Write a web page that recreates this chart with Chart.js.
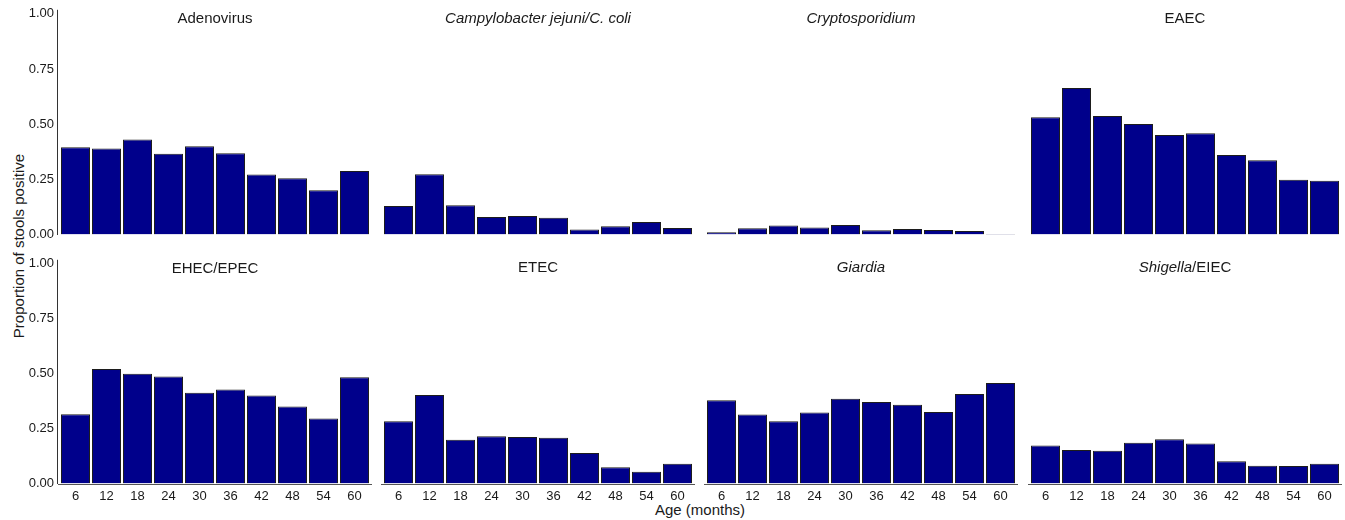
<!DOCTYPE html>
<html>
<head>
<meta charset="utf-8">
<script src="https://cdn.jsdelivr.net/npm/chart.js@4/dist/chart.umd.min.js"></script>
<style>
  html, body { margin: 0; padding: 0; background: #fff; }
  body { width: 1345px; height: 520px; position: relative; overflow: hidden;
         font-family: "Liberation Sans", Arial, Helvetica, sans-serif; color: #1a1a1a; }
  canvas.panel { position: absolute; }
  #ytitle { position: absolute; left: 18px; top: 246px; transform: translate(-50%, -50%) rotate(-90deg);
            font-size: 15px; white-space: nowrap; }
  #xtitle { position: absolute; left: 700px; top: 509px; transform: translate(-50%, -50%);
            font-size: 15px; white-space: nowrap; }
</style>
</head>
<body>
<div id="ytitle">Proportion of stools positive</div>
<div id="xtitle">Age (months)</div>
<script>
// Age groups (months)
const ages = ['6', '12', '18', '24', '30', '36', '42', '48', '54', '60'];

// Y-axis tick values
const yTicks = [0, 0.25, 0.5, 0.75, 1];

// Proportion of stools positive, by pathogen and age group
const adenovirus      = [0.395, 0.390, 0.431, 0.366, 0.400, 0.368, 0.272, 0.255, 0.201, 0.288];
const campylobacter   = [0.129, 0.272, 0.132, 0.079, 0.084, 0.076, 0.023, 0.037, 0.056, 0.029];
const cryptosporidium = [0.010, 0.028, 0.041, 0.032, 0.043, 0.019, 0.025, 0.020, 0.016, 0.002];
const eaec            = [0.529, 0.661, 0.535, 0.499, 0.449, 0.457, 0.359, 0.335, 0.247, 0.243];
const ehecEpec        = [0.315, 0.521, 0.500, 0.487, 0.413, 0.428, 0.401, 0.351, 0.296, 0.484];
const etec            = [0.281, 0.400, 0.198, 0.213, 0.210, 0.207, 0.138, 0.073, 0.053, 0.089];
const giardia         = [0.376, 0.311, 0.281, 0.321, 0.383, 0.368, 0.356, 0.323, 0.404, 0.454];
const shigellaEiec    = [0.172, 0.151, 0.148, 0.184, 0.200, 0.181, 0.100, 0.080, 0.079, 0.089];

// Panel titles (pieces flagged for italic species names)
const titleAdeno  = [['Adenovirus', false]];
const titleCampy  = [['Campylobacter jejuni/C. coli', true]];
const titleCrypto = [['Cryptosporidium', true]];
const titleEaec   = [['EAEC', false]];
const titleEhec   = [['EHEC/EPEC', false]];
const titleEtec   = [['ETEC', false]];
const titleGiard  = [['Giardia', true]];
const titleShig   = [['Shigella', true], ['/EIEC', false]];

const panels = [
  { title: titleAdeno,  data: adenovirus,      row: 0, col: 0 },
  { title: titleCampy,  data: campylobacter,   row: 0, col: 1 },
  { title: titleCrypto, data: cryptosporidium, row: 0, col: 2 },
  { title: titleEaec,   data: eaec,            row: 0, col: 3 },
  { title: titleEhec,   data: ehecEpec,        row: 1, col: 0 },
  { title: titleEtec,   data: etec,            row: 1, col: 1 },
  { title: titleGiard,  data: giardia,         row: 1, col: 2 },
  { title: titleShig,   data: shigellaEiec,    row: 1, col: 3 }
];

const FONT = '"Liberation Sans", Arial, Helvetica, sans-serif';
const INK = '#1a1a1a';
const BAR_FILL = '#00008b';
const BAR_EDGE = '#1c1c1c';

// Layout of the panel grid
const colLeft = [60, 383, 706, 1030];   // plot-area left edge of each column
const plotWidth = 310;
const rowTop = [0, 250];                 // canvas top of each row
const rowHeight = [250, 270];            // canvas height of each row
const xAxisSpace = [15.5, 36.5];         // room kept under the plot area

// Draws the panel title inside the top of the plot area, plus axis lines
const panelDecor = {
  id: 'panelDecor',
  afterDraw(chart, args, opts) {
    const { ctx, chartArea } = chart;
    const y = chart.scales.y;
    ctx.save();
    // title
    const size = 15;
    const pieces = opts.title || [];
    let total = 0;
    const widths = pieces.map(([t, it]) => {
      ctx.font = (it ? 'italic ' : '') + size + 'px ' + FONT;
      const w = ctx.measureText(t).width;
      total += w;
      return w;
    });
    let x = (chartArea.left + chartArea.right) / 2 - total / 2;
    ctx.fillStyle = INK;
    ctx.textBaseline = 'middle';
    ctx.textAlign = 'left';
    pieces.forEach(([t, it], i) => {
      ctx.font = (it ? 'italic ' : '') + size + 'px ' + FONT;
      ctx.fillText(t, x, chartArea.top + 5.5);
      x += widths[i];
    });
    ctx.strokeStyle = '#333';
    ctx.lineWidth = 1;
    // y-axis line, set slightly apart from the first bar
    if (opts.yLine) {
      const ax = Math.round(chartArea.left - 3) + 0.5;
      ctx.beginPath();
      ctx.moveTo(ax, y.getPixelForValue(1) - 4);
      ctx.lineTo(ax, y.getPixelForValue(0) + 0.5);
      ctx.stroke();
    }
    // x-axis baseline on the bottom row
    if (opts.xLine) {
      const by = Math.round(y.getPixelForValue(0)) + 0.5;
      ctx.strokeStyle = '#555';
      ctx.beginPath();
      ctx.moveTo(chartArea.left - 2, by);
      ctx.lineTo(chartArea.right + 8, by);
      ctx.stroke();
    }
    ctx.restore();
  }
};

panels.forEach(p => {
  const first = p.col === 0;
  const bottom = p.row === 1;
  const cv = document.createElement('canvas');
  cv.className = 'panel';
  const cw = first ? colLeft[0] + plotWidth + 2 : plotWidth + 6;
  const chH = rowHeight[p.row];
  cv.width = cw;
  cv.height = chH;
  cv.style.width = cw + 'px';
  cv.style.height = chH + 'px';
  cv.style.left = (first ? 0 : colLeft[p.col] - 4) + 'px';
  cv.style.top = rowTop[p.row] + 'px';
  document.body.appendChild(cv);

  new Chart(cv, {
    type: 'bar',
    data: {
      labels: ages,
      datasets: [{
        data: p.data,
        backgroundColor: BAR_FILL,
        borderColor: BAR_EDGE,
        borderWidth: 1,
        barPercentage: 0.935,
        categoryPercentage: 1
      }]
    },
    options: {
      responsive: false,
      animation: false,
      devicePixelRatio: 1,
      layout: {
        padding: {
          left: first ? 0 : 4,
          right: 2,
          top: bottom ? 12 : 13,
          bottom: 0
        }
      },
      plugins: {
        legend: { display: false },
        tooltip: { enabled: false },
        panelDecor: { title: p.title, yLine: first, xLine: bottom }
      },
      scales: {
        x: {
          display: true,
          grid: { display: false, drawTicks: false },
          border: { display: false },
          ticks: {
            display: bottom,
            color: INK,
            font: { family: FONT, size: 13 },
            padding: 5,
            maxRotation: 0,
            autoSkip: false
          },
          afterFit(scale) { scale.height = xAxisSpace[p.row]; }
        },
        y: {
          display: first,
          min: 0,
          max: 1,
          grid: { display: false, drawTicks: false },
          border: { display: false },
          afterBuildTicks(scale) { scale.ticks = yTicks.map(v => ({ value: v })); },
          ticks: {
            color: INK,
            font: { family: FONT, size: 13 },
            padding: 6,
            callback: v => Number(v).toFixed(2)
          },
          afterFit(scale) { scale.width = first ? 60 : 0; }
        }
      }
    },
    plugins: [panelDecor]
  });
});
</script>
</body>
</html>
